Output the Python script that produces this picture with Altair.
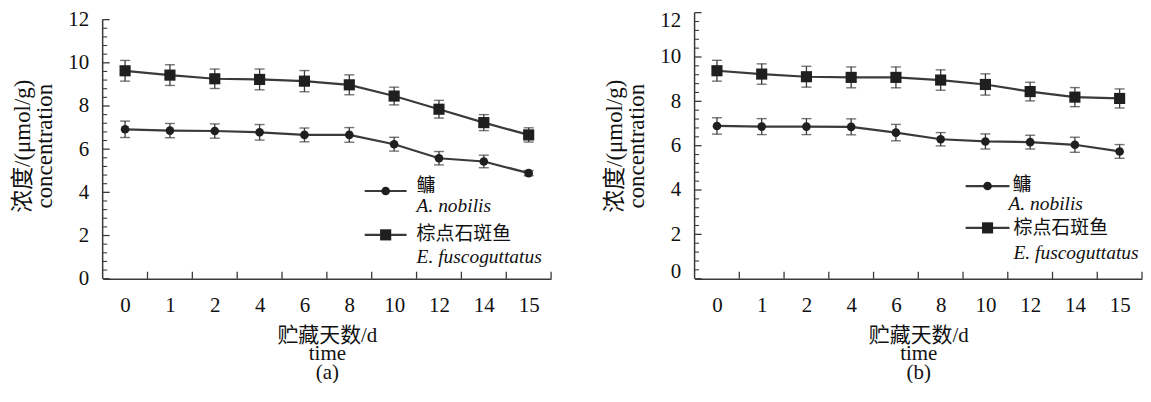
import altair as alt
import pandas as pd

# ---------------- data ----------------
days = ["0", "1", "2", "4", "6", "8", "10", "12", "14", "15"]
series_cn = ["鳙", "棕点石斑鱼"]
series_latin = ["A. nobilis", "E. fuscoguttatus"]
panel_labels = ["(a)", "(b)"]
x_title_lines = ["贮藏天数/d", "time"]
y_title_lines = ["浓度/(μmol/g)", "concentration"]
y_tick_values = [0, 2, 4, 6, 8, 10, 12]

# panel (a)
a_nobilis_a = [6.92, 6.86, 6.84, 6.78, 6.66, 6.66, 6.23, 5.58, 5.43, 4.89]
a_nobilis_a_err = [0.38, 0.33, 0.33, 0.36, 0.32, 0.34, 0.32, 0.31, 0.29, 0.12]
e_fusco_a = [9.63, 9.43, 9.26, 9.23, 9.15, 8.98, 8.46, 7.85, 7.23, 6.66]
e_fusco_a_err = [0.48, 0.48, 0.45, 0.48, 0.49, 0.46, 0.41, 0.41, 0.37, 0.33]

# panel (b)
a_nobilis_b = [6.89, 6.86, 6.86, 6.85, 6.59, 6.29, 6.19, 6.16, 6.04, 5.74]
a_nobilis_b_err = [0.37, 0.36, 0.36, 0.36, 0.37, 0.30, 0.34, 0.31, 0.34, 0.31]
e_fusco_b = [9.38, 9.23, 9.11, 9.08, 9.08, 8.96, 8.76, 8.44, 8.19, 8.13]
e_fusco_b_err = [0.47, 0.46, 0.47, 0.47, 0.47, 0.46, 0.48, 0.42, 0.43, 0.43]

# ---------------- style ----------------
FONT = "Liberation Serif, Times New Roman, Noto Sans CJK SC, serif"
LINE = "#3a3a3a"
MARK = "#1f1f1f"
TEXT = "#111111"
H = 267


def panel(nob, nob_err, fus, fus_err, label, width, ymax, flush, leg):
    rows = []
    for name, vals, errs in ((series_latin[0], nob, nob_err), (series_latin[1], fus, fus_err)):
        for i, d in enumerate(days):
            rows.append(dict(pos=i + 0.5, day=d, v=vals[i], lo=vals[i] - errs[i],
                             hi=vals[i] + errs[i], s=name))
    df = pd.DataFrame(rows)

    xs = alt.Scale(domain=[0, len(days)], nice=False, zero=False)
    ys = alt.Scale(domain=[0, ymax], nice=False, zero=True)
    label_expr = "[" + ",".join("'%s'" % d for d in days) + "][floor(datum.value)]"

    x_axis = alt.Axis(values=[i + 0.5 for i in range(len(days))], labelExpr=label_expr,
                      ticks=False, tickSize=0, grid=False, domain=True,
                      domainColor=LINE, domainWidth=1.5,
                      labelFont=FONT, labelFontSize=21, labelColor=TEXT, labelPadding=16,
                      labelAngle=0,
                      title=x_title_lines + [label], titleFont=FONT, titleFontSize=21,
                      titleFontWeight="normal", titleColor=TEXT, titlePadding=9,
                      titleLineHeight=18.5)
    y_axis = alt.Axis(values=y_tick_values, ticks=False, tickSize=0, grid=False, domain=False,
                      labelFont=FONT, labelFontSize=21, labelColor=TEXT, labelPadding=14,
                      labelFlush=flush, labelFlushOffset=3,
                      title=y_title_lines, titleFont=FONT, titleFontSize=23,
                      titleFontWeight="normal", titleColor=TEXT, titlePadding=11,
                      titleLineHeight=22)

    X = alt.X("pos:Q", scale=xs, axis=x_axis)
    base = alt.Chart(df)

    lines = base.mark_line(color=LINE, strokeWidth=2.2).encode(
        x=X, y=alt.Y("v:Q", scale=ys, axis=y_axis), detail="s:N")
    err = base.mark_rule(color=LINE, strokeWidth=1.3).encode(
        x=X, y=alt.Y("lo:Q", scale=ys, axis=y_axis), y2="hi:Q")
    cap_lo = base.mark_tick(orient="horizontal", size=10, thickness=1.4, color=LINE).encode(
        x=X, y=alt.Y("lo:Q", scale=ys, axis=y_axis))
    cap_hi = base.mark_tick(orient="horizontal", size=10, thickness=1.4, color=LINE).encode(
        x=X, y=alt.Y("hi:Q", scale=ys, axis=y_axis))
    pts = base.mark_point(filled=True, opacity=1, color=MARK).encode(
        x=X, y=alt.Y("v:Q", scale=ys, axis=y_axis),
        shape=alt.Shape("s:N", scale=alt.Scale(domain=series_latin, range=["circle", "square"]),
                        legend=None),
        size=alt.Size("s:N", scale=alt.Scale(domain=series_latin, range=[75, 125]), legend=None))

    # axis line and inward ticks
    yline = alt.Chart(pd.DataFrame({"a": [0], "b": [max(y_tick_values)]})).mark_rule(
        color=LINE, strokeWidth=1.5).encode(
        x=alt.value(0), y=alt.Y("a:Q", scale=ys, axis=y_axis), y2="b:Q")
    ymaj = alt.Chart(pd.DataFrame({"t": y_tick_values})).mark_rule(
        color=LINE, strokeWidth=1.3).encode(
        y=alt.Y("t:Q", scale=ys, axis=y_axis), x=alt.value(0), x2=alt.value(7))
    minor_vals = [round(k * 0.4, 1) for k in range(31) if k % 5]
    ymin = alt.Chart(pd.DataFrame({"t": minor_vals})).mark_rule(
        color=LINE, strokeWidth=1.1).encode(
        y=alt.Y("t:Q", scale=ys, axis=y_axis), x=alt.value(0), x2=alt.value(4.5))
    xt = alt.Chart(pd.DataFrame({"b": list(range(1, len(days) + 1))})).mark_rule(
        color=LINE, strokeWidth=1.3).encode(
        x=alt.X("b:Q", scale=xs, axis=x_axis), y=alt.value(H), y2=alt.value(H - 7))

    # legend drawn inside the plot
    legend_layers = []
    for k in range(2):
        ldf = pd.DataFrame({"cn": [series_cn[k]], "latin": [series_latin[k]],
                            "shape": [["circle", "square"][k]]})
        lc = alt.Chart(ldf)
        ly = leg["line_y"][k]
        legend_layers.append(lc.mark_rule(color=LINE, strokeWidth=2.2).encode(
            x=alt.value(leg["x0"]), x2=alt.value(leg["x1"]), y=alt.value(ly)))
        legend_layers.append(lc.mark_point(filled=True, opacity=1, color=MARK,
                                           shape=["circle", "square"][k],
                                           size=[75, 125][k]).encode(
            x=alt.value(leg["xm"]), y=alt.value(ly)))
        legend_layers.append(lc.mark_text(align="left", baseline="middle", font=FONT,
                                          fontSize=19, color=TEXT).encode(
            text="cn:N", x=alt.value(leg["cn_x"][k]), y=alt.value(leg["cn_y"][k])))
        legend_layers.append(lc.mark_text(align="left", baseline="middle", font=FONT,
                                          fontSize=19.5, fontStyle="italic", color=TEXT).encode(
            text="latin:N", x=alt.value(leg["lat_x"][k]), y=alt.value(leg["lat_y"][k])))

    return alt.layer(lines, err, cap_lo, cap_hi, pts, yline, ymaj, ymin, xt,
                     *legend_layers).properties(width=width, height=H)


leg_a = dict(x0=263, x1=305, xm=284, line_y=[179, 223], cn_x=[315, 315], cn_y=[174, 222],
             lat_x=[315, 315], lat_y=[194, 245])
leg_b = dict(x0=272, x1=316, xm=294, line_y=[174, 216], cn_x=[319, 320], cn_y=[173, 216],
             lat_x=[315, 320], lat_y=[192, 241])

left = panel(a_nobilis_a, a_nobilis_a_err, e_fusco_a, e_fusco_a_err, panel_labels[0],
             450, 12 * 267 / 260, False, leg_a)
right = panel(a_nobilis_b, a_nobilis_b_err, e_fusco_b, e_fusco_b_err, panel_labels[1],
              449, 12, True, leg_b)

chart = alt.hconcat(left, right, spacing=144, bounds="flush").properties(
    padding={"left": 4, "top": 0, "right": 0, "bottom": 0},
    background="white",
).configure_view(stroke=None)

chart.save("out.html", embed_options={"renderer": "svg", "actions": False})
